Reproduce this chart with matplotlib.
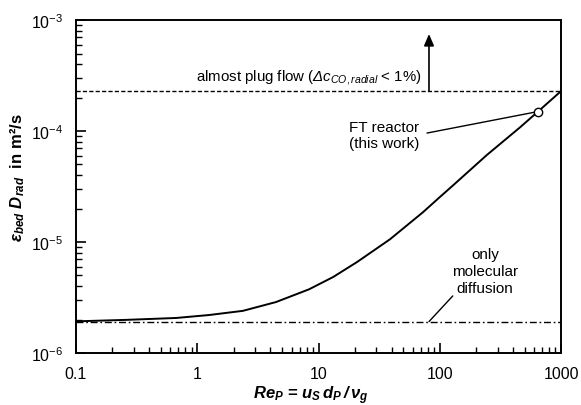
#!/usr/bin/env python
import numpy as np
import matplotlib
matplotlib.use("Agg")
import matplotlib.pyplot as plt
from matplotlib.ticker import FixedLocator, LogLocator, NullFormatter, FuncFormatter

plt.rcParams['font.family'] = ['Liberation Sans', 'DejaVu Sans']
plt.rcParams['mathtext.fontset'] = 'custom'
plt.rcParams['mathtext.rm'] = 'Liberation Sans'
plt.rcParams['mathtext.it'] = 'Liberation Sans:italic'
plt.rcParams['mathtext.cal'] = 'Liberation Sans:italic'
plt.rcParams['mathtext.bf'] = 'Liberation Sans:bold'
plt.rcParams['mathtext.bfit'] = 'Liberation Sans:italic:bold'

# values
re_p = [0.1, 0.26, 0.67, 1.25, 2.38, 4.46, 8.35, 13.2, 20.8, 38.9, 72.8, 100, 129, 245, 459, 646, 1000]
d_rad = [1.93e-6, 1.99e-6, 2.07e-6, 2.2e-6, 2.4e-6, 2.88e-6, 3.75e-6, 4.84e-6, 6.61e-6, 1.06e-5,
         1.86e-5, 2.54e-5, 3.25e-5, 6.1e-5, 1.08e-4, 1.5e-4, 2.29e-4]
d_molecular = 1.92e-6
d_plug = 2.29e-4
ft_re = 646
ft_d = 1.5e-4

fig = plt.figure(figsize=(5.81, 4.06), dpi=100)
ax = fig.add_axes([0.1308, 0.128, 0.8348, 0.820])

ax.plot(re_p, d_rad, color='black', lw=1.4)
ax.axhline(d_plug, color='black', lw=1.0, ls=(0, (3.0, 1.6)))
ax.axhline(d_molecular, color='black', lw=1.0, ls=(0, (5, 2, 1.2, 2)))
ax.plot([ft_re], [ft_d], marker='o', ms=6, mfc='white', mec='black', mew=1.0)

ax.set_xscale('log')
ax.set_yscale('log')
ax.set_xlim(0.1, 1000)
ax.set_ylim(1e-6, 1e-3)

ax.xaxis.set_major_locator(FixedLocator([0.1, 1, 10, 100, 1000]))
ax.xaxis.set_major_formatter(FuncFormatter(lambda v, p: '%g' % v))
ax.xaxis.set_minor_locator(LogLocator(base=10, subs=np.arange(2, 10)))
ax.xaxis.set_minor_formatter(NullFormatter())
ax.yaxis.set_major_locator(FixedLocator([1e-6, 1e-5, 1e-4, 1e-3]))
ax.yaxis.set_major_formatter(FuncFormatter(lambda v, p: r'10$^{%d}$' % round(np.log10(v))))
ax.yaxis.set_minor_locator(LogLocator(base=10, subs=np.arange(2, 10)))
ax.yaxis.set_minor_formatter(NullFormatter())

ax.tick_params(which='both', direction='in', top=False, right=False, labelsize=11.5)
ax.tick_params(axis='x', which='both', pad=9)
ax.tick_params(axis='y', which='both', pad=9)
ax.tick_params(which='major', length=7, width=1.2)
ax.tick_params(which='minor', length=4, width=1.0)
for s in ax.spines.values():
    s.set_linewidth(1.4)

ax.set_xlabel(r'$\mathbfit{Re_P}$ = $\mathbfit{u_S\,d_P\,/\,\nu_g}$', fontsize=12,
              fontweight='bold')
ax.xaxis.set_label_coords(0.485, -0.092)
ax.set_ylabel(r'$\mathbfit{\varepsilon_{bed}}$ $\mathbfit{D_{rad}}$  in m²/s', fontsize=12,
              fontweight='bold')
ax.yaxis.set_label_coords(-0.1, 0.53)

# annotations
ax.text(8.4, 3.13e-4, r'almost plug flow ($\mathcal{\Delta}\mathit{c}_{\mathit{CO,radial}}$ < 1%)',
        fontsize=10.8, ha='center', va='center')
ax.annotate('', xy=(81.5, 7.5e-4), xytext=(81.5, d_plug),
            arrowprops=dict(arrowstyle='-|>,head_length=0.7,head_width=0.3',
                            color='black', lw=1.2, shrinkA=0, shrinkB=0))
ax.text(34.7, 9.2e-5, 'FT reactor\n(this work)', fontsize=11, ha='center', va='center',
        linespacing=1.15)
ax.annotate('', xy=(ft_re, ft_d), xytext=(78.5, 9.6e-5),
            arrowprops=dict(arrowstyle='-', color='black', lw=1.0, shrinkA=0, shrinkB=3))
ax.text(236, 5.48e-6, 'only\nmolecular\ndiffusion', fontsize=11, ha='center', va='center',
        linespacing=1.3)
ax.annotate('', xy=(81.5, d_molecular), xytext=(128, 3.27e-6),
            arrowprops=dict(arrowstyle='-', color='black', lw=1.0, shrinkA=0, shrinkB=0))

plt.savefig('out.png', dpi=100)
